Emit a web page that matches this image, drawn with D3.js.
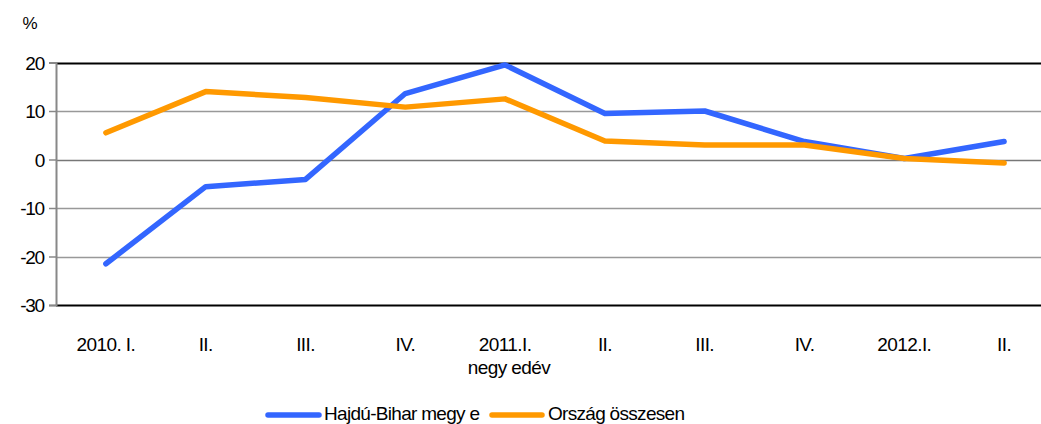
<!DOCTYPE html>
<html><head><meta charset="utf-8">
<script src="https://cdn.jsdelivr.net/npm/d3@7"></script>
<style>body{margin:0;background:#fff}svg{display:block}text{font-family:"Liberation Sans",Arial,sans-serif;fill:#000}</style>
</head><body><svg id="c" width="1041" height="424"></svg>
<script>
const categories = ["2010. I.","II.","III.","IV.","2011.I.","II.","III.","IV.","2012.I.","II."];
const hajdu = [-21.5,-5.6,-4.1,13.6,19.5,9.5,10.0,3.7,0.2,3.7];
const orszag = [5.5,14.0,12.8,10.8,12.5,3.8,3.0,3.0,0.2,-0.7];
const yTicks = [20,10,0,-10,-20,-30];
const seriesNames = ["Hajdú-Bihar megy e","Ország összesen"];
const colors = ["#3366FF","#FF9900"];
const xTitle = "negy edév";
const yUnit = "%";

const svg = d3.select("#c");
const L = 56, R = 1054, T = 62.5, B = 305;
const x = d3.scaleBand().domain(d3.range(categories.length)).range([L, R]);
const y = d3.scaleLinear().domain([-30, 20]).range([B, T]);

// gridlines
svg.selectAll("line.grid").data(yTicks).join("line")
  .attr("x1", L).attr("x2", 1041)
  .attr("y1", d => Math.round(y(d)) + 0.5).attr("y2", d => Math.round(y(d)) + 0.5)
  .attr("stroke", d => (d === 20 || d === -30) ? "#000" : (d === 0 ? "#777" : "#999"))
  .attr("stroke-width", d => (d === 20 || d === -30) ? 2 : 1.5);

// y axis
const yAxis = d3.axisLeft(y).tickValues(yTicks).tickSize(7).tickPadding(5).tickFormat(d => String(d));
const ga = svg.append("g").attr("transform", `translate(${L},0)`).call(yAxis);
ga.select(".domain").attr("stroke", "#888").attr("stroke-width", 2);
ga.selectAll(".tick line").attr("stroke", "#888").attr("stroke-width", 1.5);
ga.selectAll(".tick text").attr("font-size", 19).attr("letter-spacing", "-1.2px")
  .attr("font-family", "Liberation Sans, Arial, sans-serif").attr("fill", "#000").attr("dy", "0.35em");

// x labels
svg.selectAll("text.xl").data(categories).join("text")
  .attr("x", (d, i) => x(i) + x.bandwidth() / 2).attr("y", 351)
  .attr("text-anchor", "middle").attr("font-size", 19).attr("letter-spacing", "-0.6px")
  .text(d => d);
svg.append("text").attr("x", 509).attr("y", 374).attr("text-anchor", "middle")
  .attr("font-size", 19).attr("letter-spacing", "-0.6px").text(xTitle);
svg.append("text").attr("x", 30).attr("y", 29).attr("text-anchor", "middle")
  .attr("font-size", 17).text(yUnit);

// lines
const line = d3.line().x((d, i) => x(i) + x.bandwidth() / 2).y(d => y(d));
[hajdu, orszag].forEach((s, k) => {
  svg.append("path").attr("d", line(s)).attr("fill", "none")
    .attr("stroke", colors[k]).attr("stroke-width", 5.5)
    .attr("stroke-linecap", "round").attr("stroke-linejoin", "round");
});

// legend
const leg = [{x1: 268, x2: 319, tx: 324}, {x1: 492, x2: 542, tx: 548}];
leg.forEach((p, k) => {
  svg.append("line").attr("x1", p.x1).attr("x2", p.x2).attr("y1", 415).attr("y2", 415)
    .attr("stroke", colors[k]).attr("stroke-width", 5.5).attr("stroke-linecap", "round");
  svg.append("text").attr("x", p.tx).attr("y", 420).attr("font-size", 19)
    .attr("letter-spacing", "-0.7px").text(seriesNames[k]);
});
</script></body></html>
